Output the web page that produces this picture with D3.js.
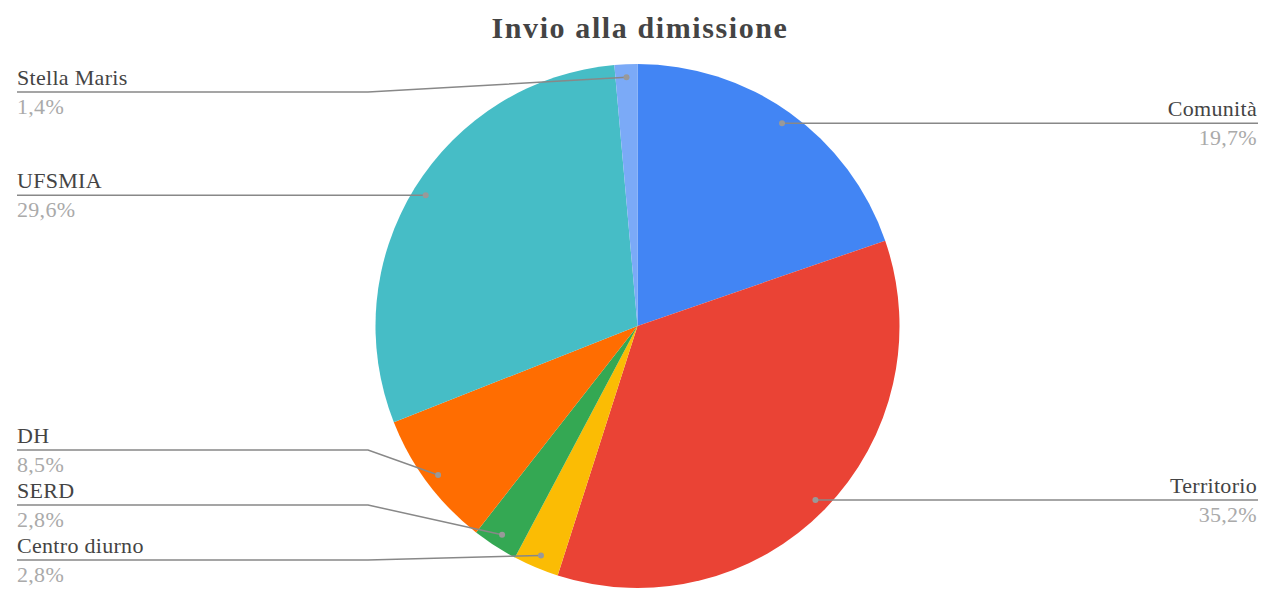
<!DOCTYPE html>
<html>
<head>
<meta charset="utf-8">
<script src="https://cdn.jsdelivr.net/npm/d3@7"></script>
<style>
  body { margin: 0; background: #fff; }
  svg { display: block; }
</style>
</head>
<body>
<svg id="chart"></svg>
<script>
// data (counts out of 71)
const categories = ["Comunità", "Territorio", "Centro diurno", "SERD", "DH", "UFSMIA", "Stella Maris"];
const counts = [14, 25, 2, 2, 6, 21, 1];
const colors = ["#4285f4", "#ea4335", "#fbbc04", "#34a853", "#ff6d01", "#46bdc6", "#7baaf7"];
const title = "Invio alla dimissione";

const width = 1268, height = 595;
const cx = 637.5, cy = 326, radius = 262;
const fontFam = "'Liberation Serif', 'DejaVu Serif', serif";

const it = d3.formatLocale({decimal: ",", thousands: ".", grouping: [3], currency: ["€", ""]});
const pct = it.format(".1%");

const svg = d3.select("#chart")
    .attr("width", width)
    .attr("height", height);

svg.append("text")
    .attr("x", 640)
    .attr("y", 38)
    .attr("text-anchor", "middle")
    .style("font-family", fontFam)
    .style("font-weight", "bold")
    .style("font-size", "30px")
    .style("letter-spacing", "1.6px")
    .style("fill", "#444")
    .text(title);

const data = categories.map((c, i) => ({name: c, value: counts[i], color: colors[i]}));
const total = d3.sum(counts);

const pie = d3.pie().sort(null).value(d => d.value);
const arcs = pie(data);
const arc = d3.arc().innerRadius(0).outerRadius(radius);
const dotArc = d3.arc().innerRadius(radius * 0.95).outerRadius(radius * 0.95);

const g = svg.append("g").attr("transform", `translate(${cx},${cy})`);
g.selectAll("path")
    .data(arcs)
    .join("path")
    .attr("d", arc)
    .attr("fill", d => d.data.color);

// label placement: overlapping labels are grouped, centred on their dots, then kept inside bounds
const labels = arcs.map(d => {
    const [x, y] = dotArc.centroid(d);
    const mid = (d.startAngle + d.endAngle) / 2;
    return {d, dx: cx + x, dy: cy + y, right: mid < Math.PI};
});

const minY = 92, maxY = 560, gap = 55;
["left", "right"].forEach(side => {
    const grp = labels.filter(l => (side === "right") === l.right).sort((a, b) => a.dy - b.dy);
    let clusters = grp.map(l => ({items: [l], mean: l.dy}));
    const place = c => {
        const n = c.items.length;
        let top = c.mean - (n - 1) * gap / 2;
        top = Math.max(minY, Math.min(maxY - (n - 1) * gap, top));
        c.top = top;
        c.bottom = top + (n - 1) * gap;
    };
    clusters.forEach(place);
    let merged = true;
    while (merged) {
        merged = false;
        for (let i = 0; i < clusters.length - 1; i++) {
            if (clusters[i + 1].top - clusters[i].bottom < gap) {
                const items = clusters[i].items.concat(clusters[i + 1].items);
                const c = {items, mean: d3.mean(items, l => l.dy)};
                place(c);
                clusters.splice(i, 2, c);
                merged = true;
                break;
            }
        }
    }
    clusters.forEach(c => c.items.forEach((l, i) => { l.ly = c.top + i * gap; }));
});

const leftX = 17, rightX = 1258, elbowL = 368, elbowR = 900;
const lg = svg.append("g");

labels.forEach(l => {
    const pts = l.right
        ? [[l.dx, l.dy], [elbowR, l.ly], [rightX, l.ly]]
        : [[leftX, l.ly], [elbowL, l.ly], [l.dx, l.dy]];
    if (Math.abs(l.ly - l.dy) < 0.5) pts.splice(1, 1);
    lg.append("path")
        .attr("d", d3.line()(pts))
        .attr("fill", "none")
        .attr("stroke", "#888")
        .attr("stroke-width", 1.5);
    lg.append("circle")
        .attr("cx", l.dx)
        .attr("cy", l.dy)
        .attr("r", 3)
        .attr("fill", "#999");
    const tx = l.right ? rightX - 1 : leftX;
    const anchor = l.right ? "end" : "start";
    lg.append("text")
        .attr("x", tx)
        .attr("y", l.ly - 7)
        .attr("text-anchor", anchor)
        .style("font-family", fontFam)
        .style("font-size", "22px")
        .style("letter-spacing", "0.3px")
        .style("fill", "#444")
        .text(l.d.data.name);
    lg.append("text")
        .attr("x", tx)
        .attr("y", l.ly + 22)
        .attr("text-anchor", anchor)
        .style("font-family", fontFam)
        .style("font-size", "22px")
        .style("letter-spacing", "0.3px")
        .style("fill", "#aaa")
        .text(pct(l.d.data.value / total));
});
</script>
</body>
</html>
